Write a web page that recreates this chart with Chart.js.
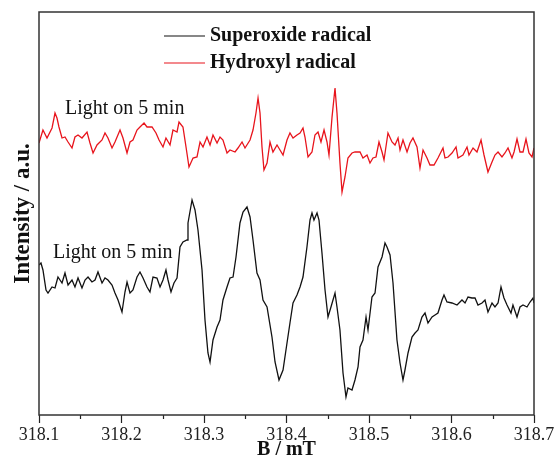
<!DOCTYPE html>
<html>
<head>
<meta charset="utf-8">
<script src="https://cdn.jsdelivr.net/npm/chart.js@4.4.0/dist/chart.umd.min.js"></script>
<style>
  html, body { margin: 0; padding: 0; background: #fff; }
  #wrap { width: 556px; height: 462px; }
</style>
</head>
<body>
<div id="wrap"><canvas id="epr" width="556" height="462"></canvas></div>
<script>
// magnetic field (mT) and intensity (a.u.)
const hydroxylField = [
  318.1000, 318.1048, 318.1097, 318.1158, 318.1194, 318.1218, 318.1242, 318.1279, 318.1315, 318.1352,
  318.1400, 318.1436, 318.1473, 318.1521, 318.1582, 318.1618, 318.1655, 318.1703, 318.1764, 318.1800,
  318.1836, 318.1885, 318.1921, 318.1982, 318.2018, 318.2067, 318.2103, 318.2139, 318.2188, 318.2224,
  318.2273, 318.2309, 318.2370, 318.2418, 318.2455, 318.2503, 318.2539, 318.2588, 318.2624, 318.2673,
  318.2697, 318.2745, 318.2782, 318.2818, 318.2867, 318.2915, 318.2952, 318.2988, 318.3036, 318.3073,
  318.3109, 318.3158, 318.3194, 318.3230, 318.3279, 318.3315, 318.3376, 318.3412, 318.3461, 318.3497,
  318.3558, 318.3594, 318.3630, 318.3655, 318.3679, 318.3703, 318.3727, 318.3764, 318.3800, 318.3836,
  318.3885, 318.3921, 318.3958, 318.4006, 318.4042, 318.4079, 318.4127, 318.4164, 318.4200, 318.4224,
  318.4261, 318.4309, 318.4345, 318.4382, 318.4418, 318.4455, 318.4491, 318.4515, 318.4552, 318.4588,
  318.4612, 318.4648, 318.4673, 318.4709, 318.4745, 318.4794, 318.4830, 318.4891, 318.4927, 318.4976,
  318.5012, 318.5048, 318.5085, 318.5121, 318.5158, 318.5182, 318.5230, 318.5279, 318.5315, 318.5352,
  318.5376, 318.5412, 318.5461, 318.5497, 318.5533, 318.5582, 318.5618, 318.5655, 318.5703, 318.5739,
  318.5788, 318.5836, 318.5897, 318.5921, 318.5958, 318.6006, 318.6055, 318.6079, 318.6139, 318.6188,
  318.6212, 318.6261, 318.6309, 318.6358, 318.6394, 318.6442, 318.6491, 318.6527, 318.6564, 318.6612,
  318.6648, 318.6685, 318.6733, 318.6758, 318.6794, 318.6830, 318.6867, 318.6903, 318.6939, 318.6976,
  318.7000
];
const hydroxylIntensity = [
  272, 285, 277, 287, 302, 297, 288, 277, 278, 273,
  267, 278, 280, 277, 283, 272, 262, 270, 275, 282,
  277, 267, 273, 285, 277, 262, 273, 275, 285, 288,
  292, 288, 288, 282, 275, 268, 277, 270, 285, 283,
  293, 288, 268, 248, 257, 258, 273, 268, 278, 270,
  280, 272, 278, 275, 262, 265, 263, 267, 273, 267,
  275, 285, 302, 317, 302, 268, 245, 252, 273, 263,
  270, 265, 260, 275, 282, 277, 280, 282, 287, 278,
  258, 263, 280, 283, 273, 285, 273, 260, 298, 327,
  302, 252, 223, 238, 257, 262, 263, 263, 257, 260,
  252, 257, 258, 273, 263, 255, 282, 273, 270, 277,
  265, 275, 263, 272, 277, 268, 247, 265, 257, 250,
  250, 257, 267, 257, 258, 262, 268, 257, 260, 268,
  260, 267, 263, 275, 260, 243, 253, 260, 263, 258,
  262, 267, 257, 263, 276, 263, 263, 276, 262, 258,
  267
];
const superoxideField = [
  318.1000, 318.1024, 318.1048, 318.1085, 318.1109, 318.1158, 318.1194, 318.1230, 318.1279, 318.1315,
  318.1352, 318.1400, 318.1436, 318.1473, 318.1521, 318.1558, 318.1594, 318.1642, 318.1679, 318.1715,
  318.1764, 318.1800, 318.1836, 318.1885, 318.1921, 318.1958, 318.2006, 318.2042, 318.2067, 318.2103,
  318.2139, 318.2188, 318.2224, 318.2261, 318.2309, 318.2345, 318.2382, 318.2430, 318.2467, 318.2503,
  318.2539, 318.2564, 318.2600, 318.2636, 318.2673, 318.2709, 318.2745, 318.2794, 318.2806, 318.2855,
  318.2891, 318.2927, 318.2976, 318.3012, 318.3048, 318.3073, 318.3109, 318.3158, 318.3194, 318.3230,
  318.3279, 318.3315, 318.3352, 318.3388, 318.3436, 318.3473, 318.3521, 318.3558, 318.3594, 318.3642,
  318.3679, 318.3715, 318.3764, 318.3824, 318.3861, 318.3909, 318.3958, 318.4006, 318.4042, 318.4079,
  318.4127, 318.4164, 318.4200, 318.4248, 318.4285, 318.4309, 318.4333, 318.4370, 318.4394, 318.4430,
  318.4467, 318.4503, 318.4539, 318.4588, 318.4612, 318.4648, 318.4685, 318.4721, 318.4745, 318.4794,
  318.4830, 318.4867, 318.4891, 318.4927, 318.4964, 318.4988, 318.5036, 318.5073, 318.5109, 318.5158,
  318.5194, 318.5218, 318.5255, 318.5291, 318.5339, 318.5376, 318.5412, 318.5436, 318.5473, 318.5521,
  318.5558, 318.5594, 318.5642, 318.5679, 318.5715, 318.5764, 318.5800, 318.5836, 318.5885, 318.5909,
  318.5945, 318.6006, 318.6067, 318.6127, 318.6164, 318.6200, 318.6248, 318.6285, 318.6321, 318.6370,
  318.6406, 318.6442, 318.6491, 318.6527, 318.6564, 318.6600, 318.6636, 318.6673, 318.6721, 318.6745,
  318.6794, 318.6830, 318.6867, 318.6915, 318.6952, 318.6988, 318.7000
];
const superoxideIntensity = [
  150, 152, 145, 125, 122, 128, 127, 138, 132, 142,
  130, 135, 128, 137, 127, 135, 138, 133, 135, 143,
  132, 137, 135, 130, 122, 115, 103, 123, 133, 122,
  125, 138, 143, 137, 128, 123, 138, 137, 128, 135,
  145, 135, 123, 132, 137, 168, 173, 175, 192, 215,
  205, 185, 145, 95, 62, 53, 75, 88, 95, 115,
  128, 137, 138, 158, 192, 203, 208, 198, 175, 142,
  135, 115, 108, 78, 53, 35, 45, 72, 92, 112,
  120, 128, 138, 168, 195, 202, 195, 202, 195, 162,
  125, 98, 108, 122, 108, 85, 42, 18, 27, 25,
  35, 48, 68, 75, 98, 85, 118, 122, 148, 158,
  172, 168, 160, 132, 75, 52, 35, 45, 62, 78,
  82, 85, 98, 102, 92, 98, 100, 102, 115, 120,
  113, 112, 110, 115, 112, 118, 117, 117, 110, 112,
  115, 103, 112, 108, 112, 128, 117, 110, 102, 110,
  98, 108, 110, 108, 113, 117, 112
];

const seriesLabels = ['Superoxide radical', 'Hydroxyl radical'];
const seriesColors = ['#111111', '#e8141c'];
const tickValues = [318.1, 318.2, 318.3, 318.4, 318.5, 318.6, 318.7];
const minorTickValues = [318.15, 318.25, 318.35, 318.45, 318.55, 318.65];
const noteText = 'Light on 5 min';
// where each note sits, in data units (field, intensity)
const notes = [
  { x: 318.1315, y: 301, color: '#111' },
  { x: 318.1170, y: 157, color: '#111' }
];

const serif = '"Liberation Serif", "Times New Roman", serif';

function toPoints(xs, ys) {
  return xs.map((x, i) => ({ x: x, y: ys[i] }));
}

const extras = {
  id: 'extras',
  afterDraw(chart) {
    const ctx = chart.ctx;
    const a = chart.chartArea;
    const xs = chart.scales.x, ys = chart.scales.y;
    ctx.save();

    // minor ticks
    ctx.strokeStyle = '#222';
    ctx.lineWidth = 1.2;
    minorTickValues.forEach(v => {
      const px = Math.round(xs.getPixelForValue(v)) + 0.5;
      ctx.beginPath();
      ctx.moveTo(px, a.bottom);
      ctx.lineTo(px, a.bottom + 4);
      ctx.stroke();
    });

    // frame
    ctx.strokeStyle = '#333';
    ctx.lineWidth = 1.5;
    ctx.strokeRect(a.left, a.top, a.right - a.left, a.bottom - a.top);

    // legend
    ctx.font = 'bold 20px ' + serif;
    ctx.textBaseline = 'middle';
    ctx.textAlign = 'left';
    chart.data.datasets.forEach((ds, i) => {
      const y = a.top + 24 + i * 27;
      ctx.strokeStyle = ds.borderColor;
      ctx.lineWidth = 1.2;
      ctx.beginPath();
      ctx.moveTo(a.left + 125, y);
      ctx.lineTo(a.left + 166, y);
      ctx.stroke();
      ctx.fillStyle = '#111';
      ctx.fillText(ds.label, a.left + 171, y);
    });

    // notes
    ctx.font = '20px ' + serif;
    ctx.textBaseline = 'alphabetic';
    notes.forEach(n => {
      ctx.fillStyle = n.color;
      ctx.fillText(noteText, xs.getPixelForValue(n.x), ys.getPixelForValue(n.y));
    });

    ctx.restore();
  }
};

new Chart(document.getElementById('epr'), {
  type: 'line',
  data: {
    datasets: [
      {
        label: seriesLabels[0],
        data: toPoints(superoxideField, superoxideIntensity),
        borderColor: seriesColors[0],
        borderWidth: 1.3,
        pointRadius: 0,
        tension: 0
      },
      {
        label: seriesLabels[1],
        data: toPoints(hydroxylField, hydroxylIntensity),
        borderColor: seriesColors[1],
        borderWidth: 1.3,
        pointRadius: 0,
        tension: 0
      }
    ]
  },
  options: {
    responsive: false,
    animation: false,
    devicePixelRatio: 1,
    layout: { padding: { top: 12, right: 22, left: 0, bottom: 0 } },
    plugins: {
      legend: { display: false },
      tooltip: { enabled: false }
    },
    scales: {
      x: {
        type: 'linear',
        min: 318.1,
        max: 318.7,
        afterBuildTicks: s => { s.ticks = tickValues.map(v => ({ value: v })); },
        afterFit: s => { s.height = 47; },
        ticks: {
          callback: v => Number(v).toFixed(1),
          font: { family: serif, size: 18 },
          color: '#222',
          padding: 1,
          maxRotation: 0,
          autoSkip: false
        },
        grid: { drawOnChartArea: false, tickLength: 8, tickColor: '#222', tickWidth: 1.2 },
        border: { display: false },
        title: {
          display: true,
          text: 'B / mT',
          font: { family: serif, size: 20, weight: 'bold' },
          color: '#111',
          padding: { top: 0, bottom: 0 }
        }
      },
      y: {
        min: 0,
        max: 403,
        afterFit: s => { s.width = 39; },
        ticks: { display: false },
        grid: { display: false },
        border: { display: false },
        title: {
          display: true,
          text: 'Intensity / a.u.',
          font: { family: serif, size: 23, weight: 'bold' },
          color: '#111',
          padding: { top: 9, bottom: 0 }
        }
      }
    }
  },
  plugins: [extras]
});
</script>
</body>
</html>
